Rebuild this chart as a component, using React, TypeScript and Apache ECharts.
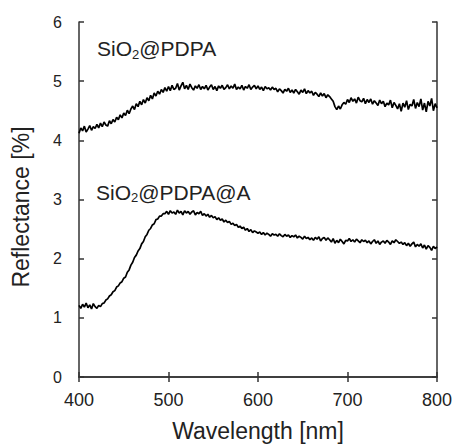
import React, { useEffect, useRef } from "react";
import * as echarts from "echarts";

const wavelengthStart = 400;
const wavelengthStep = 2;

const pdpa = [
  4.12, 4.21, 4.16, 4.24, 4.14, 4.19, 4.25, 4.17, 4.23, 4.20,
  4.27, 4.21, 4.29, 4.23, 4.31, 4.26, 4.24, 4.33, 4.28, 4.35,
  4.31, 4.39, 4.35, 4.43, 4.38, 4.46, 4.42, 4.51, 4.45, 4.53,
  4.58, 4.52, 4.62, 4.57, 4.66, 4.60, 4.69, 4.63, 4.72, 4.67,
  4.76, 4.70, 4.80, 4.75, 4.83, 4.78, 4.86, 4.81, 4.89, 4.83,
  4.91, 4.84, 4.93, 4.86, 4.88, 4.96, 4.85, 4.92, 4.98, 4.87,
  4.93, 4.86, 4.95, 4.89, 4.85, 4.92, 4.88, 4.94, 4.86, 4.91,
  4.87, 4.93, 4.85, 4.90, 4.94, 4.86, 4.91, 4.84, 4.92, 4.88,
  4.93, 4.86, 4.89, 4.94, 4.87, 4.92, 4.88, 4.95, 4.86, 4.90,
  4.87, 4.93, 4.85, 4.91, 4.88, 4.94, 4.86, 4.90, 4.93, 4.87,
  4.92, 4.86, 4.90, 4.84, 4.91, 4.87, 4.89, 4.85, 4.90, 4.86,
  4.88, 4.82, 4.87, 4.84, 4.80, 4.86, 4.83, 4.88, 4.81, 4.85,
  4.80, 4.86, 4.82, 4.78, 4.85, 4.81, 4.87, 4.79, 4.84, 4.80,
  4.83, 4.76, 4.81, 4.78, 4.74, 4.80, 4.75, 4.79, 4.72, 4.77,
  4.74, 4.70, 4.66, 4.57, 4.52, 4.58, 4.53, 4.60, 4.64, 4.61,
  4.69, 4.64, 4.72, 4.66, 4.70, 4.63, 4.73, 4.67, 4.65, 4.71,
  4.62, 4.69, 4.64, 4.70, 4.61, 4.67, 4.63, 4.59, 4.68, 4.62,
  4.66, 4.57, 4.63, 4.60, 4.68, 4.55, 4.64, 4.59, 4.53, 4.62,
  4.49, 4.63, 4.56, 4.67, 4.52, 4.61, 4.58, 4.69, 4.54, 4.64,
  4.57, 4.70, 4.51, 4.63, 4.48, 4.66, 4.58, 4.71, 4.50, 4.62,
  4.55,
];

const pdpaA = [
  1.21, 1.16, 1.23, 1.18, 1.25, 1.17, 1.22, 1.15, 1.24, 1.19,
  1.16, 1.21, 1.19, 1.24, 1.25, 1.30, 1.32, 1.37, 1.39, 1.44,
  1.46, 1.52, 1.54, 1.59, 1.61, 1.67, 1.69, 1.77, 1.81, 1.89,
  1.94, 2.02, 2.06, 2.13, 2.17, 2.25, 2.29, 2.37, 2.41, 2.48,
  2.51, 2.57, 2.59, 2.66, 2.67, 2.72, 2.72, 2.76, 2.76, 2.80,
  2.75, 2.81, 2.77, 2.79, 2.75, 2.82, 2.77, 2.80, 2.74, 2.81,
  2.77, 2.80, 2.75, 2.79, 2.81, 2.74, 2.78, 2.76, 2.80, 2.73,
  2.76, 2.72, 2.75, 2.70, 2.73, 2.69, 2.71, 2.66, 2.69, 2.65,
  2.67, 2.62, 2.65, 2.61, 2.63, 2.58, 2.60, 2.56, 2.58, 2.53,
  2.55, 2.51, 2.53, 2.48, 2.51, 2.46, 2.49, 2.44, 2.47, 2.45,
  2.43, 2.45, 2.41, 2.44, 2.40, 2.43, 2.41, 2.38, 2.42, 2.40,
  2.41, 2.38, 2.42, 2.39, 2.37, 2.41, 2.38, 2.40, 2.36, 2.39,
  2.37, 2.40, 2.35, 2.38, 2.36, 2.33, 2.38, 2.34, 2.36, 2.32,
  2.35, 2.31, 2.36, 2.33, 2.37, 2.30, 2.34, 2.36, 2.31, 2.35,
  2.32, 2.28, 2.34, 2.26, 2.31, 2.27, 2.33, 2.29, 2.25, 2.31,
  2.30, 2.34, 2.29, 2.32, 2.28, 2.33, 2.30, 2.27, 2.32, 2.29,
  2.31, 2.27, 2.30, 2.25, 2.29, 2.32, 2.26, 2.30, 2.24, 2.28,
  2.30, 2.26, 2.31, 2.28, 2.24, 2.30, 2.27, 2.32, 2.29, 2.26,
  2.28, 2.24, 2.27, 2.22, 2.26, 2.21, 2.25, 2.28, 2.20, 2.24,
  2.21, 2.25, 2.18, 2.23, 2.16, 2.22, 2.19, 2.14, 2.21, 2.17,
  2.20,
];

const xTicks = { min: 400, max: 800, interval: 100 };
const yTicks = { min: 0, max: 6, interval: 1 };

const FONT = "'Liberation Sans', Arial, sans-serif";
const AXIS_COLOR = "#333";
const TEXT_COLOR = "#222";

function toPairs(values: number[]) {
  return values.map((v, i) => [wavelengthStart + i * wavelengthStep, v]);
}

export default function App() {
  const ref = useRef<HTMLDivElement>(null);

  useEffect(() => {
    if (!ref.current) return;
    const chart = echarts.init(ref.current, null, { renderer: "svg" });

    const axisLine = { show: true, lineStyle: { color: AXIS_COLOR, width: 1.5 } };
    const axisTick = { show: true, inside: true, length: 5, lineStyle: { color: AXIS_COLOR, width: 1.5 } };

    const subLabel = (main: string, rest: string) =>
      `{m|${main}}{s|2}{m|${rest}}`;
    const rich = {
      m: { fontSize: 21, fontFamily: FONT, fill: TEXT_COLOR, color: TEXT_COLOR, lineHeight: 24 },
      s: { fontSize: 13, fontFamily: FONT, fill: TEXT_COLOR, color: TEXT_COLOR, lineHeight: 13, verticalAlign: "bottom" },
    };

    chart.setOption({
      animation: false,
      backgroundColor: "#fff",
      grid: { left: 79, right: 16.3, top: 22, bottom: 64, containLabel: false },
      xAxis: [
        {
          type: "value",
          min: xTicks.min,
          max: xTicks.max,
          interval: xTicks.interval,
          position: "bottom",
          name: "Wavelength [nm]",
          nameLocation: "middle",
          nameGap: 42,
          nameTextStyle: { fontSize: 23, fontFamily: FONT, color: TEXT_COLOR },
          axisLine,
          axisTick,
          splitLine: { show: false },
          axisLabel: { fontSize: 18, fontFamily: FONT, color: TEXT_COLOR, margin: 14 },
        },
        {
          type: "value",
          min: xTicks.min,
          max: xTicks.max,
          interval: xTicks.interval,
          position: "top",
          axisLine,
          axisTick,
          splitLine: { show: false },
          axisLabel: { show: false },
        },
      ],
      yAxis: [
        {
          type: "value",
          min: yTicks.min,
          max: yTicks.max,
          interval: yTicks.interval,
          position: "left",
          name: "Reflectance [%]",
          nameLocation: "middle",
          nameGap: 47,
          nameTextStyle: { fontSize: 23, fontFamily: FONT, color: TEXT_COLOR, padding: [0, 15, 0, 0] },
          axisLine,
          axisTick,
          splitLine: { show: false },
          axisLabel: { fontSize: 16, fontFamily: FONT, color: TEXT_COLOR, margin: 17 },
        },
        {
          type: "value",
          min: yTicks.min,
          max: yTicks.max,
          interval: yTicks.interval,
          position: "right",
          axisLine,
          axisTick,
          splitLine: { show: false },
          axisLabel: { show: false },
        },
      ],
      series: [
        {
          name: "SiO2@PDPA",
          type: "line",
          xAxisIndex: 0,
          yAxisIndex: 0,
          data: toPairs(pdpa),
          showSymbol: false,
          symbol: "none",
          smooth: false,
          lineStyle: { color: "#000", width: 1.7 },
        },
        {
          name: "SiO2@PDPA@A",
          type: "line",
          xAxisIndex: 0,
          yAxisIndex: 0,
          data: toPairs(pdpaA),
          showSymbol: false,
          symbol: "none",
          smooth: false,
          lineStyle: { color: "#000", width: 1.7 },
        },
      ],
      graphic: [
        {
          type: "text",
          x: 97,
          y: 48.5,
          style: {
            text: subLabel("SiO", "@PDPA"),
            rich,
            verticalAlign: "middle",
            align: "left",
            fill: TEXT_COLOR,
          },
        },
        {
          type: "text",
          x: 96,
          y: 192,
          style: {
            text: subLabel("SiO", "@PDPA@A"),
            rich,
            verticalAlign: "middle",
            align: "left",
            fill: TEXT_COLOR,
          },
        },
      ],
    });

    return () => chart.dispose();
  }, []);

  return (
    <div
      ref={ref}
      style={{ position: "fixed", left: 0, top: 0, width: 455, height: 447, background: "#fff" }}
    />
  );
}
